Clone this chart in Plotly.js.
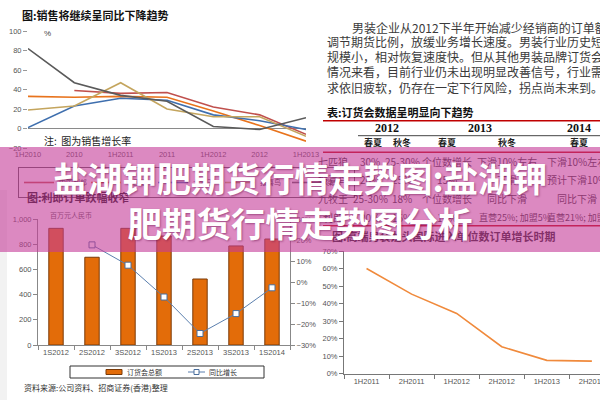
<!DOCTYPE html>
<html>
<head>
<meta charset="utf-8">
<script src="https://cdn.plot.ly/plotly-3.0.1.min.js"></script>
<style>html,body{margin:0;padding:0;background:#fff}#chart{width:600px;height:400px}</style>
</head>
<body>
<div id="chart"></div>
<script>
// ---------------- data ----------------
const salesPeriods = ['1H2010', '2010', '1H2011', '2011', '1H2012', '2012', '1H2013'];
const salesNames = ['中国利郎', '七匹狼', '九牧王', '报喜鸟', '柒牌'];
const salesGray = [82, 47, 34, 28, 2, -1, 11];
const salesBlue = [1, 23, 31, 29, 14, 8, -1];
const salesKhaki = [19, 23, 47, 20, 12, 12, -8];
const salesOrange = [33, 32, 33, 32, 18, 3, -13];
const salesRed = [null, 39, 36, 37, 22, 14, -6];

const fairPeriods = ['1S2012', '2S2012', '3S2012', '1S2013', '2S2013', '3S2013', '1S2014'];
const fairTotal = [928, 698, 928, 867, 525, 788, 843];
const fairGrowthPeriods = ['2S2012', '3S2012', '1S2013', '2S2013', '3S2013', '1S2014'];
const fairGrowth = [0.178, 0.081, -0.071, -0.245, -0.15, -0.027];
const fairLegend = ['订货会总额', '同比增长'];

const halfYears = ['1H2011', '2H2011', '1H2012', '2H2012', '1H2013', '2H2013'];
const orderGrowth = [0.60, 0.454, 0.344, 0.154, 0.076, 0.072];

const titleSales = '图:销售将继续呈同比下降趋势';
const noteSales = '注:  图为销售增长率';
const titleFair = '图:利郎订单跌幅收窄';
const unitFair = '百万元人民币';
const sourceFair = '资料来源:公司资料、招商证券(香港)整理';
const titleOrders = '图:高端男装龙头国际进入单位数订单增长时期';

const paragraph = [
  '男装企业从2012下半年开始减少经销商的订单额',
  '调节期货比例，放缓业务增长速度。男装行业历史短',
  '规模小，相对恢复速度快。但从其他男装品牌订货会',
  '情况来看，目前行业仍未出现明显改善信号，行业需',
  '求依旧疲软，仍存在一定下行风险，拐点尚未来到。'
];
const tableTitle = '表:订货会数据呈明显向下趋势';
const tableYears = ['2012', '2013', '2014'];
const tableSeasons = ['春夏', '秋冬', '春夏', '秋冬', '春夏'];
const tableRows = [
  ['七匹狼', '30%', '25-30%', '个位数增长', '下滑10%左右', '下滑10%左右'],
  ['报喜鸟', '20%', '25%', '15%', '下滑', '预计下滑10%'],
  ['九牧王', '25-30%', '18%', '个位数增长', '同比下滑', '同比下滑'],
  ['利郎', '20%', '15%', '10%', '直营25%; 加盟5%', '直营21%; 加盟5%']
];
const bannerLines = ['盐湖钾肥期货行情走势图:盐湖钾', '肥期货行情走势图分析'];

// ---------------- helpers ----------------
const W = 600, H = 400;
const px = x => x / W;
const py = y => 1 - y / H;
const CJK = 'Noto Sans CJK SC';
function txt(x, y, text, size, opts) {
  opts = opts || {};
  return {
    xref: 'paper', yref: 'paper', x: px(x), y: py(y), text: text,
    showarrow: false, xanchor: opts.anchor || 'left', yanchor: 'middle',
    font: {family: opts.family || CJK, size: size, color: opts.color || '#222', weight: opts.weight || 'normal'}
  };
}
function hline(x0, x1, y, color, width) {
  return {type: 'line', xref: 'paper', yref: 'paper', x0: px(x0), x1: px(x1), y0: py(y), y1: py(y),
          line: {color: color, width: width}};
}
function rect(x0, x1, y0, y1, fill, lineColor, lw) {
  return {type: 'rect', xref: 'paper', yref: 'paper', x0: px(x0), x1: px(x1), y0: py(y1), y1: py(y0),
          fillcolor: fill, line: {color: lineColor, width: lw}};
}

// ---------------- traces ----------------
const salesSeries = [salesRed, salesOrange, salesBlue, salesKhaki, salesGray];
const salesColors = ['#c0504d', '#e8731c', '#3f6fae', '#c4a55e', '#5a5a5a'];
const barColor = '#e36c09', barEdge = '#7a3a08', growthColor = '#5b7fae';
const traces = [];
salesSeries.forEach((s, i) => {
  traces.push({
    type: 'scatter', mode: 'lines', x: salesPeriods, y: s, name: salesNames[i],
    xaxis: 'x', yaxis: 'y', line: {color: salesColors[i], width: 1.6},
    legend: 'legend2', connectgaps: false
  });
});
traces.push({
  type: 'bar', x: fairPeriods, y: fairTotal, name: fairLegend[0], xaxis: 'x2', yaxis: 'y2',
  width: 0.4, marker: {color: barColor, line: {color: barEdge, width: 1}}, showlegend: false
});
traces.push({
  type: 'scatter', mode: 'lines+markers', x: fairGrowthPeriods, y: fairGrowth, name: fairLegend[1],
  xaxis: 'x2', yaxis: 'y3', line: {color: growthColor, width: 1},
  marker: {symbol: 'square', size: 6, color: '#ffffff', line: {color: '#4a6e9c', width: 1}}, showlegend: false
});
traces.push({
  type: 'scatter', mode: 'lines', x: halfYears, y: orderGrowth, xaxis: 'x3', yaxis: 'y4',
  line: {color: '#f08a3c', width: 1.6}, showlegend: false
});

// ---------------- annotations ----------------
const ann = [];
ann.push(txt(20, 15, titleSales, 11, {weight: 'bold', color: '#111'}));
ann.push(txt(42, 33, '%', 8, {family: 'Liberation Sans', color: '#444'}));
ann.push(txt(42, 140, noteSales, 10, {color: '#222'}));
paragraph.forEach((line, i) => {
  ann.push(txt(i === 0 ? 350 : 325, 27 + i * 15, line, 12, {color: '#3a3a3a'}));
});
ann.push(txt(325, 112, tableTitle, 11, {weight: 'bold', color: '#111'}));
const yearX = [387, 480, 579];
tableYears.forEach((t, i) => ann.push(txt(yearX[i], 128, t, 12, {anchor: 'center', family: 'Liberation Sans Narrow', weight: 'bold', color: '#111'})));
const seasonX = [373, 402, 447, 507, 579];
tableSeasons.forEach((t, i) => ann.push(txt(seasonX[i], 143, t, 9, {anchor: 'center', weight: 'bold', color: '#222'})));
const colX = [333, 370, 402, 447, 507, 577];
const rowY = [161, 180, 198, 217];
tableRows.forEach((row, r) => {
  row.forEach((cell, c) => {
    if (r === 3 && c >= 4) {
      ann.push(txt(c === 4 ? 477 : 545, rowY[r], cell, 9, {color: '#333'}));
    } else {
      ann.push(txt(colX[c], rowY[r], cell, 10, {anchor: 'center', color: '#333'}));
    }
  });
});
ann.push(txt(25, 197, titleFair, 11, {weight: 'bold', color: '#111'}));
ann.push(txt(48, 215, unitFair, 7, {color: '#555'}));
ann.push(txt(22, 387, sourceFair, 8, {color: '#333'}));
ann.push(txt(330, 236, titleOrders, 11, {color: '#222', weight: 'bold'}));
// legend labels of the bar/line chart
ann.push(txt(125, 372, fairLegend[0], 7, {color: '#333'}));
ann.push(txt(207, 372, fairLegend[1], 7, {color: '#333'}));
// banner (drawn last so it sits above everything)
ann.push({
  xref: 'paper', yref: 'paper', x: 0.5, y: py(199), xanchor: 'center', yanchor: 'middle',
  width: 600, height: 105, borderpad: 0, borderwidth: 0, bgcolor: 'rgba(196,58,152,0.6)',
  showarrow: false, text: bannerLines.join('<br>'),
  font: {family: CJK, size: 34.5, color: '#ffffff', weight: 'bold', shadow: '1px 1px 2px rgba(90,0,60,0.45)'}
});

// ---------------- shapes ----------------
const shapes = [
  hline(323, 600, 120.7, '#c00000', 1.5),
  hline(358, 600, 135.7, '#444', 1),
  hline(323, 600, 152.3, '#c00000', 1.5),
  hline(323, 600, 225.7, '#c00000', 1.5),
  {type: 'rect', xref: 'paper', yref: 'paper', x0: 0, x1: px(7), y0: 0, y1: py(190), line: {width: 0}, fillcolor: '#f2f2f2', layer: 'below'},
  // legend box of the bar/line chart
  rect(70, 264, 366, 378, '#ffffff', '#333', 1),
  rect(106, 122, 369.5, 374.5, barColor, barEdge, 1),
  hline(188, 205, 372, growthColor, 1),
  rect(194, 199, 369.5, 374.5, '#ffffff', '#4a6e9c', 1)
];

const tickFont = {family: 'Liberation Sans', size: 7.5, color: '#555'};
const layout = {
  width: W, height: H, margin: {l: 0, r: 0, t: 0, b: 0},
  paper_bgcolor: '#ffffff', plot_bgcolor: 'rgba(0,0,0,0)',
  font: {family: 'Liberation Sans, ' + CJK, color: '#333'},
  showlegend: true,
  xaxis: {domain: [px(28), px(306)], anchor: 'y', type: 'category', showgrid: false, showline: false,
          ticks: '', tickfont: tickFont, fixedrange: true},
  yaxis: {domain: [py(148), py(31)], anchor: 'x', range: [-20, 100], dtick: 20, showgrid: false,
          zeroline: true, zerolinecolor: '#8a8a8a', zerolinewidth: 1, showline: false,
          ticks: 'outside', ticklen: 4, tickcolor: '#999', tickfont: tickFont},
  xaxis2: {domain: [px(38), px(290)], anchor: 'y2', type: 'category', showgrid: false, showline: true,
           linecolor: '#888', ticks: 'outside', tickson: 'boundaries', ticklen: 4, tickcolor: '#888', tickfont: tickFont},
  yaxis2: {domain: [py(345), py(219.3)], anchor: 'x2', range: [0, 1000], dtick: 200, tickformat: ',',
           showgrid: false, zeroline: false, showline: true, linecolor: '#888', ticks: 'outside', ticklen: 4,
           tickcolor: '#888', tickfont: tickFont},
  yaxis3: {overlaying: 'y2', anchor: 'x2', side: 'right', range: [-0.3, 0.3], dtick: 0.1, tickformat: '.0%',
           showgrid: false, zeroline: false, showline: true, linecolor: '#888', ticks: 'outside', ticklen: 4,
           tickcolor: '#888', tickfont: tickFont},
  xaxis3: {domain: [px(344), 1], anchor: 'y4', type: 'category', range: [-0.5, 5.18], showgrid: false,
           showline: true, linecolor: '#777', ticks: 'outside', tickson: 'boundaries', ticklen: 4,
           tickcolor: '#777', tickfont: tickFont},
  yaxis4: {domain: [py(373.7), py(251)], anchor: 'x3', range: [0, 0.7], dtick: 0.1, tickformat: '.0%',
           showgrid: false, zeroline: false, showline: true, linecolor: '#777', ticks: 'outside', ticklen: 4,
           tickcolor: '#777', tickfont: tickFont},
  legend2: {orientation: 'h', x: px(18), y: py(167), xanchor: 'left', yanchor: 'top',
            bordercolor: '#555', borderwidth: 1, bgcolor: '#fff', font: {family: CJK, size: 7, color: '#333'},
            entrywidth: 22, entrywidthmode: 'pixels', itemwidth: 30},
  annotations: ann,
  shapes: shapes
};

Plotly.newPlot('chart', traces, layout, {staticPlot: true, displayModeBar: false});
</script>
</body>
</html>
